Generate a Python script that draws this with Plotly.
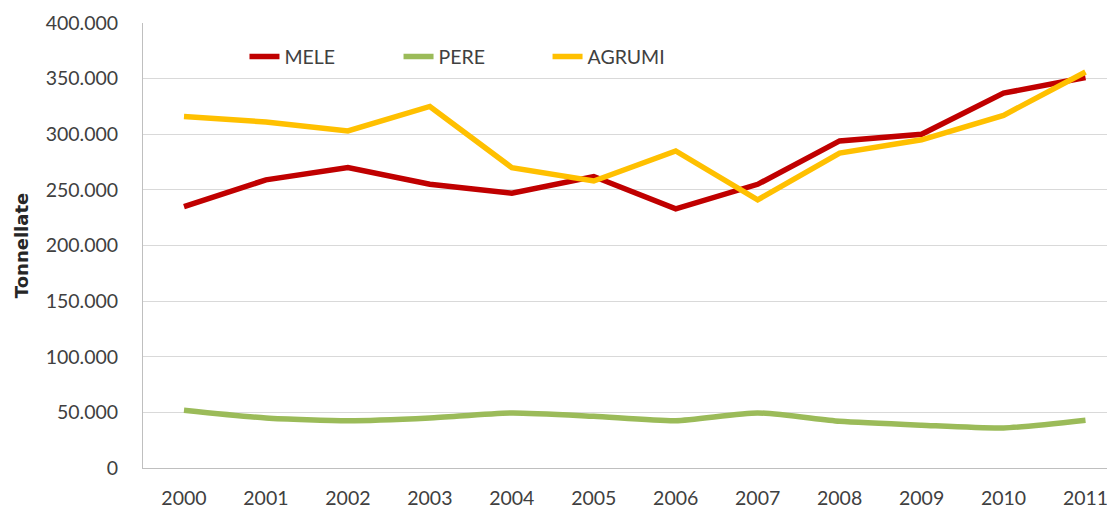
import plotly.graph_objects as go

years = ["2000", "2001", "2002", "2003", "2004", "2005", "2006", "2007", "2008", "2009", "2010", "2011"]
mele = [235000, 259000, 270000, 255000, 247000, 262000, 233000, 255000, 294000, 300000, 337000, 351000]
pere = [52000, 45000, 42500, 45000, 49500, 46500, 42500, 49500, 42000, 38500, 36000, 43000]
agrumi = [316000, 311000, 303000, 325000, 270000, 258000, 285000, 241000, 283000, 295000, 317000, 356000]
y_ticks = [0, 50000, 100000, 150000, 200000, 250000, 300000, 350000, 400000]

FONT = "Lato, 'Open Sans', sans-serif"
FS = 19.5
LW = 5.5

fig = go.Figure()
fig.add_trace(go.Scatter(x=years, y=mele, name="MELE", mode="lines", legend="legend",
                         line=dict(color="#C00000", width=LW)))
fig.add_trace(go.Scatter(x=years, y=pere, name="PERE", mode="lines", legend="legend2",
                         line=dict(color="#9BBB59", width=LW, shape="spline", smoothing=0.6)))
fig.add_trace(go.Scatter(x=years, y=agrumi, name="AGRUMI", mode="lines", legend="legend3",
                         line=dict(color="#FFC000", width=LW)))

leg_common = dict(orientation="h", xanchor="left", y=0.924, yanchor="middle",
                  bgcolor="rgba(0,0,0,0)", font=dict(family=FONT, size=FS, color="#404040"),
                  itemwidth=30)

# page body has an 8px default margin; figure sized so it ends at the window edge
fig.update_layout(
    width=1107, height=501,
    margin=dict(l=135, r=0, t=15, b=41),
    paper_bgcolor="white", plot_bgcolor="white",
    separators=",.",
    font=dict(family=FONT, size=FS, color="#404040"),
    showlegend=True,
    legend=dict(x=0.1044, **leg_common),
    legend2=dict(x=0.2629, **leg_common),
    legend3=dict(x=0.4162, **leg_common),
)
fig.update_xaxes(
    type="category", range=[-0.5, 11.36],
    showgrid=False, showline=True, linecolor="#BFBFBF", linewidth=1,
    ticks="", tickfont=dict(family=FONT, size=FS, color="#404040"),
    ticklabelstandoff=13,
)
fig.update_yaxes(
    range=[0, 400000], tickvals=y_ticks, tickformat=",.0f",
    showgrid=True, gridcolor="#D9D9D9", gridwidth=1,
    showline=True, linecolor="#BFBFBF", linewidth=1,
    zeroline=False, ticks="",
    tickfont=dict(family=FONT, size=FS, color="#404040"),
    ticklabelstandoff=20,
    title=dict(text="<b>Tonnellate</b>",
               font=dict(family="'DejaVu Sans', sans-serif", size=18, color="#262626"),
               standoff=12),
)

fig.write_html("out.html")
